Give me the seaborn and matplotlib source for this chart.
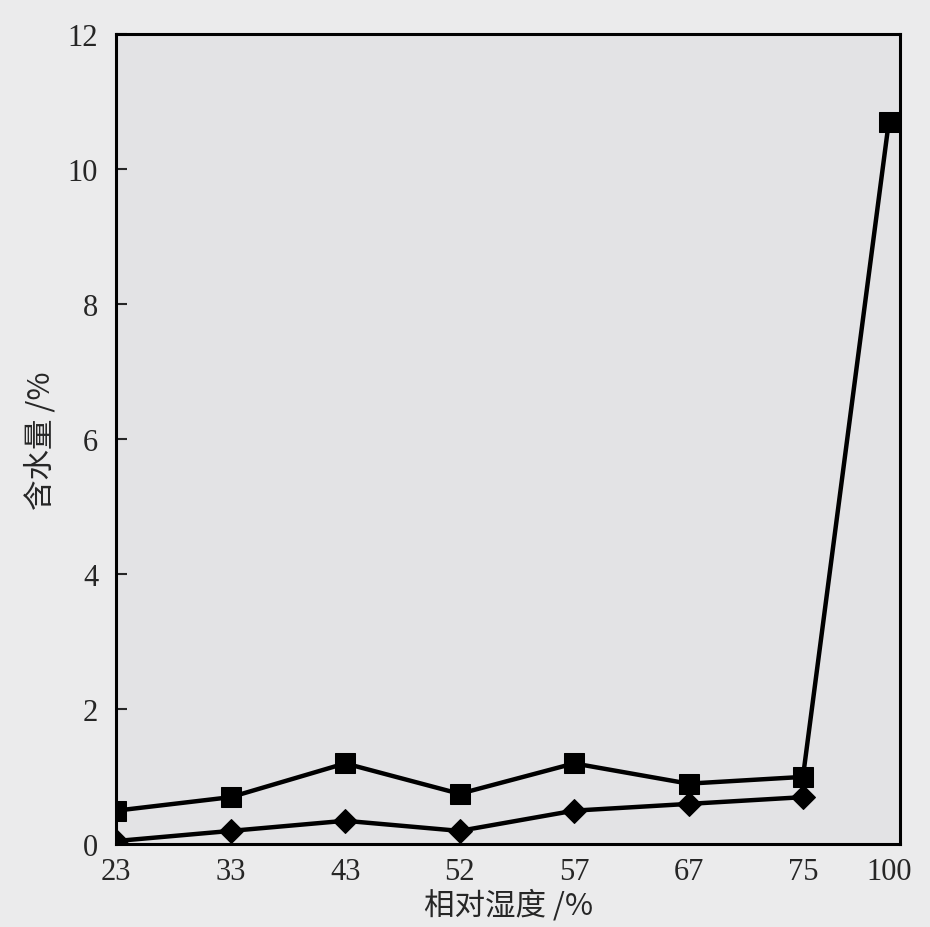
import matplotlib
matplotlib.use("Agg")
import matplotlib.pyplot as plt
import seaborn as sns
import numpy as np
import pandas as pd

# data
humidity = ["23", "33", "43", "52", "57", "67", "75", "100"]
series_square = [0.5, 0.7, 1.2, 0.75, 1.2, 0.9, 1.0, 10.7]
series_diamond = [0.05, 0.2, 0.35, 0.2, 0.5, 0.6, 0.7, np.nan]

sns.set_theme(style="ticks")
plt.rcParams['font.family'] = ['Liberation Serif', 'Noto Sans CJK SC', 'DejaVu Sans']

xpos = [0, 1, 2, 3, 4, 5, 6, 6.75]

df_sq = pd.DataFrame({"x": xpos, "y": series_square})
df_di = pd.DataFrame({"x": xpos, "y": series_diamond}).dropna()

fig = plt.figure(figsize=(9.3, 9.28), dpi=100, facecolor="#ebebec")
ax = fig.add_axes([0.125, 0.089, 0.843, 0.873])
ax.set_facecolor("#e3e3e5")

sns.lineplot(data=df_sq, x="x", y="y", ax=ax, color="black", linewidth=3.2,
             marker="s", markersize=14, markeredgecolor="black", markerfacecolor="black")
sns.lineplot(data=df_di, x="x", y="y", ax=ax, color="black", linewidth=3.2,
             marker="D", markersize=12, markeredgecolor="black", markerfacecolor="black")

ax.set_xlim(0, 6.85)
ax.set_ylim(0, 12)
ax.set_xticks(xpos)
ax.set_xticklabels(humidity)
ax.set_yticks([0, 2, 4, 6, 8, 10, 12])
ax.set_yticklabels(["0", "2", "4", "6", "8", "10", "12"])
ax.tick_params(axis="y", direction="in", length=8, width=1.5, labelsize=22, pad=13)
ax.tick_params(axis="x", direction="in", length=0, labelsize=22, pad=9)
for s in ax.spines.values():
    s.set_linewidth(2.2)
    s.set_color("black")

ax.set_xlabel("相对湿度 /%", fontsize=22, family=['Noto Sans CJK SC', 'DejaVu Sans'], labelpad=2)
ax.set_ylabel("含水量 /%", fontsize=22, family=['Noto Sans CJK SC', 'DejaVu Sans'], labelpad=8)

fig.savefig("out.png", dpi=100, facecolor=fig.get_facecolor())
